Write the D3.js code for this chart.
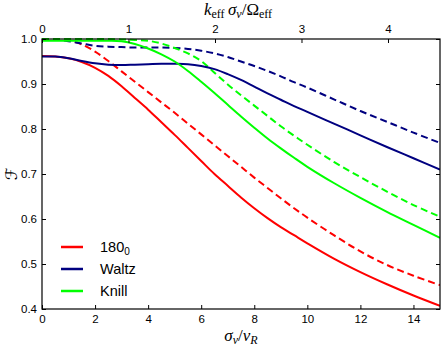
<!DOCTYPE html>
<html>
<head>
<meta charset="utf-8">
<script src="https://d3js.org/d3.v7.min.js"></script>
<style>
html,body{margin:0;padding:0;background:#fff;}
svg{display:block;}
text{font-family:"Liberation Sans",Arial,sans-serif;fill:#000;}
.math{font-family:"Liberation Serif","DejaVu Serif",serif;}
</style>
</head>
<body>
<svg id="chart" width="441" height="347"></svg>
<script>
// ---- data ----
const xs = [0,0.5,1,1.5,2,2.5,3,3.5,4,4.5,5,5.5,6,6.5,7,7.5,8,8.5,9,9.5,10,11,12,13,14,15];

const red180Solid  = [0.962,0.961,0.957,0.949,0.936,0.918,0.895,0.869,0.843,0.815,0.787,0.758,0.729,0.700,0.674,0.648,0.624,0.602,0.582,0.564,0.546,0.512,0.482,0.455,0.430,0.407];
const red180Dashed = [1.000,0.999,0.997,0.988,0.972,0.951,0.928,0.905,0.882,0.859,0.836,0.812,0.788,0.764,0.740,0.716,0.692,0.669,0.646,0.624,0.603,0.564,0.528,0.498,0.474,0.453];
const waltzSolid   = [0.961,0.961,0.957,0.951,0.946,0.943,0.942,0.943,0.944,0.945,0.945,0.944,0.940,0.933,0.922,0.909,0.894,0.879,0.865,0.851,0.838,0.812,0.786,0.760,0.735,0.710];
const waltzDashed  = [1.000,0.999,0.995,0.990,0.985,0.983,0.982,0.981,0.981,0.981,0.980,0.978,0.974,0.968,0.960,0.950,0.940,0.929,0.917,0.904,0.892,0.866,0.840,0.816,0.792,0.769];
const knillSolid   = [0.996,0.996,0.996,0.996,0.996,0.996,0.995,0.989,0.979,0.966,0.950,0.929,0.905,0.880,0.854,0.828,0.803,0.779,0.757,0.736,0.716,0.680,0.647,0.616,0.587,0.558];
const knillDashed  = [1.000,1.000,1.000,1.000,1.000,1.000,0.999,0.998,0.996,0.990,0.980,0.968,0.951,0.925,0.899,0.875,0.852,0.829,0.806,0.785,0.765,0.727,0.693,0.661,0.631,0.605];

const legendLabels = ["180", "Waltz", "Knill"];
const legendSubs = ["0", "", ""];
const seriesColors = ["#ff0000", "#000080", "#00ff00"];

const xTicks = [0,2,4,6,8,10,12,14];
const yTicks = [0.4,0.5,0.6,0.7,0.8,0.9,1.0];
const topTicks = [0,1,2,3,4];
const topFactor = 3.26; // sigma_v/v_R per unit of k_eff sigma_v/Omega_eff

// ---- layout ----
const svg = d3.select("#chart");
const L = 42, R = 440, T = 39, B = 309;
const x = d3.scaleLinear().domain([0,15]).range([L,R]);
const y = d3.scaleLinear().domain([0.4,1.0]).range([B,T]);
const xTop = d3.scaleLinear().domain([0,15/topFactor]).range([L,R]);

svg.append("clipPath").attr("id","clip").append("rect")
  .attr("x",L).attr("y",T-2).attr("width",R-L).attr("height",B-T+2);

const series = [
  {v: red180Dashed, c: seriesColors[0], dash: true},
  {v: waltzDashed, c: seriesColors[1], dash: true},
  {v: knillDashed, c: seriesColors[2], dash: true},
  {v: red180Solid, c: seriesColors[0], dash: false},
  {v: waltzSolid, c: seriesColors[1], dash: false},
  {v: knillSolid, c: seriesColors[2], dash: false}
];
const line = d3.line().x((d,i)=>x(xs[i])).y(d=>y(d)).curve(d3.curveCatmullRom.alpha(0.5));
const g = svg.append("g").attr("clip-path","url(#clip)");
series.forEach(s=>{
  g.append("path").attr("d", line(s.v)).attr("fill","none")
    .attr("stroke", s.c).attr("stroke-width", 2)
    .attr("stroke-dasharray", s.dash ? "7,4" : null);
});

// ---- axes ----
const tickLen = 4;
const fs = "11.5px";
const axB = svg.append("g").attr("transform",`translate(0,${B})`)
  .call(d3.axisBottom(x).tickValues(xTicks).tickSizeInner(-tickLen).tickSizeOuter(0).tickPadding(6).tickFormat(d3.format("d")));
const axT = svg.append("g").attr("transform",`translate(0,${T})`)
  .call(d3.axisTop(xTop).tickValues(topTicks).tickSizeInner(-tickLen).tickSizeOuter(0).tickPadding(6).tickFormat(d3.format("d")));
const axL = svg.append("g").attr("transform",`translate(${L},0)`)
  .call(d3.axisLeft(y).tickValues(yTicks).tickSizeInner(-tickLen).tickSizeOuter(0).tickPadding(5).tickFormat(d3.format(".1f")));
const axR = svg.append("g").attr("transform",`translate(${R},0)`)
  .call(d3.axisRight(y).tickValues(yTicks).tickSizeInner(-tickLen).tickSizeOuter(0).tickFormat(""));
[axB,axT,axL,axR].forEach(a=>{
  a.select(".domain").remove();
  a.selectAll("text").style("font-family","'Liberation Sans',Arial,sans-serif").style("font-size",fs).attr("fill","#000");
  a.selectAll("line").attr("stroke","#000").attr("stroke-width",1);
});
// frame
svg.append("rect").attr("x",L).attr("y",T).attr("width",R-L).attr("height",B-T)
  .attr("fill","none").attr("stroke","#000").attr("stroke-width",1.2);

// ---- axis labels ----
const topLbl = svg.append("text").attr("class","math").attr("x",(L+R)/2 - 3).attr("y",15)
  .attr("text-anchor","middle").style("font-size","17px");
topLbl.append("tspan").attr("font-style","italic").text("k");
topLbl.append("tspan").attr("dy",3).style("font-size","12px").text("eff");
topLbl.append("tspan").attr("dy",-3).text("\u2009");
topLbl.append("tspan").attr("font-style","italic").text("σ");
topLbl.append("tspan").attr("dy",3).attr("font-style","italic").style("font-size","12px").text("v");
topLbl.append("tspan").attr("dy",-3).text("/Ω");
topLbl.append("tspan").attr("dy",3).style("font-size","12px").text("eff");

const botLbl = svg.append("text").attr("class","math").attr("x",(L+R)/2).attr("y",341)
  .attr("text-anchor","middle").style("font-size","17px");
botLbl.append("tspan").attr("font-style","italic").text("σ");
botLbl.append("tspan").attr("dy",3).attr("font-style","italic").style("font-size","12px").text("v");
botLbl.append("tspan").attr("dy",-3).text("/");
botLbl.append("tspan").attr("font-style","italic").text("v");
botLbl.append("tspan").attr("dy",3).attr("font-style","italic").style("font-size","12px").text("R");

svg.append("text")
  .attr("transform",`translate(11,${(T+B)/2}) rotate(-90)`)
  .attr("text-anchor","middle").attr("dominant-baseline","central")
  .style("font-family","'DejaVu Sans',sans-serif").style("font-size","16px").text("ℱ");

// ---- legend ----
const leg = svg.append("g");
legendLabels.forEach((lab,i)=>{
  const yy = 247 + i*22;
  leg.append("line").attr("x1",61).attr("x2",83).attr("y1",yy).attr("y2",yy)
    .attr("stroke",seriesColors[i]).attr("stroke-width",2.5);
  const t = leg.append("text").attr("x",100).attr("y",yy+5).style("font-size","14.5px").text(lab);
  if (legendSubs[i]) t.append("tspan").attr("dy",3).style("font-size","10px").text(legendSubs[i]);
});
</script>
</body>
</html>
